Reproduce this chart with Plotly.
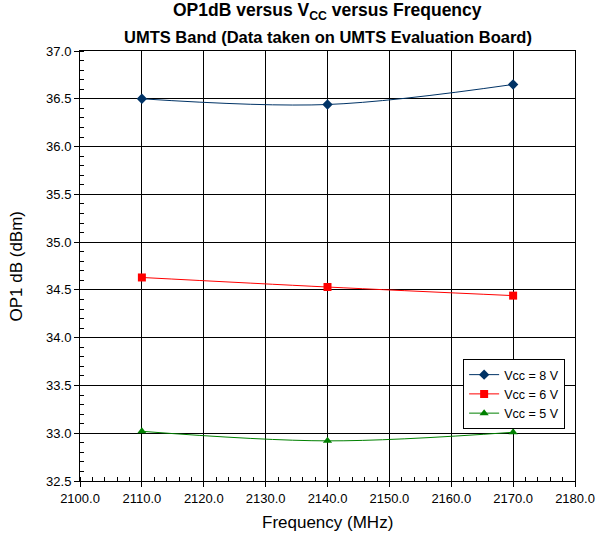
import plotly.graph_objects as go

freq = [2110.0, 2140.0, 2170.0]
vcc8 = [36.50, 36.44, 36.65]
vcc6 = [34.63, 34.53, 34.44]
vcc5 = [33.02, 32.92, 33.01]
names = ["Vcc = 8 V", "Vcc = 6 V", "Vcc = 5 V"]

fig = go.Figure()
fig.add_trace(go.Scatter(x=freq, y=vcc8, name=names[0], mode="lines+markers",
                         line=dict(color="#003366", width=1, shape="spline"),
                         marker=dict(symbol="diamond", size=8, color="#003366")))
fig.add_trace(go.Scatter(x=freq, y=vcc6, name=names[1], mode="lines+markers",
                         line=dict(color="#FF0000", width=1, shape="spline"),
                         marker=dict(symbol="square", size=8, color="#FF0000")))
fig.add_trace(go.Scatter(x=freq, y=vcc5, name=names[2], mode="lines+markers",
                         line=dict(color="#008000", width=1, shape="spline"),
                         marker=dict(symbol="triangle-up", size=8, color="#008000")))

font = "Liberation Sans, Arial, sans-serif"
fig.update_layout(
    width=605, height=539,
    margin=dict(l=80, r=30, t=51, b=58),
    paper_bgcolor="white", plot_bgcolor="white",
    font=dict(family=font, size=13, color="black"),
    showlegend=True,
    legend=dict(x=0.774, y=0.2837, xanchor="left", yanchor="top",
                bgcolor="white", bordercolor="black", borderwidth=1,
                font=dict(size=12.5), tracegroupgap=0),
    annotations=[
        dict(text="<b>OP1dB versus V<sub>CC</sub> versus Frequency</b>", x=0.5, y=1,
             xref="paper", yref="paper", xanchor="center", yanchor="bottom",
             yshift=26, showarrow=False, font=dict(size=17.5)),
        dict(text="<b>UMTS Band (Data taken on UMTS Evaluation Board)</b>", x=0.5, y=1,
             xref="paper", yref="paper", xanchor="center", yanchor="bottom",
             yshift=3, showarrow=False, font=dict(size=16.5)),
        dict(text="Frequency (MHz)", x=0.5, y=0, xref="paper", yref="paper",
             xanchor="center", yanchor="top", yshift=-30, showarrow=False,
             font=dict(size=17)),
        dict(text="OP1 dB (dBm)", x=0, y=0.5, xref="paper", yref="paper",
             xanchor="right", yanchor="middle", xshift=-53, textangle=-90,
             showarrow=False, font=dict(size=17)),
    ],
)
fig.update_xaxes(range=[2100, 2180], dtick=10, tickformat=".1f", automargin=False,
                 showgrid=True, gridcolor="black", gridwidth=1,
                 showline=True, linecolor="black", linewidth=1, mirror=True,
                 ticks="outside", ticklen=5, tickcolor="black",
                 minor=dict(dtick=2, ticks="inside", ticklen=4, tickcolor="black", showgrid=False),
                 zeroline=False)
fig.update_yaxes(range=[32.5, 37.0], dtick=0.5, tickformat=".1f", automargin=False,
                 showgrid=True, gridcolor="black", gridwidth=1,
                 showline=True, linecolor="black", linewidth=1, mirror=True,
                 ticks="outside", ticklen=5, tickcolor="black",
                 minor=dict(dtick=0.1, ticks="inside", ticklen=4, tickcolor="black", showgrid=False),
                 zeroline=False)

fig.write_html("out.html", config={"displayModeBar": False},
               post_script="document.body.style.margin='0';")
